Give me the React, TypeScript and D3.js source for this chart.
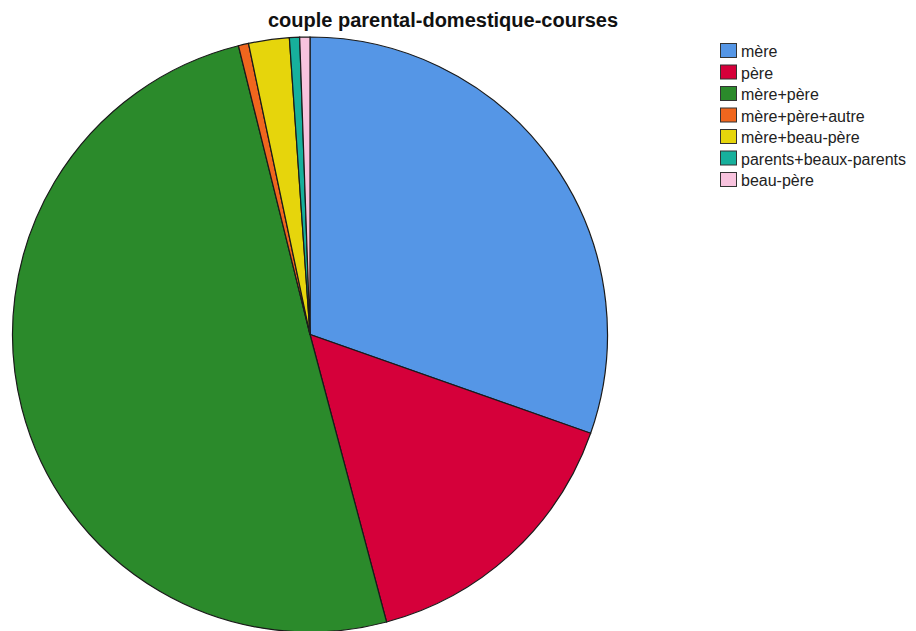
import React from "react";
import * as d3 from "d3";

const categories = [
  "mère",
  "père",
  "mère+père",
  "mère+père+autre",
  "mère+beau-père",
  "parents+beaux-parents",
  "beau-père",
];
const counts = [55, 28, 91, 1, 4, 1, 1];
const colors = ["#5596e6", "#d5003a", "#2b8a2b", "#f0661e", "#e6d50c", "#17b09c", "#f8c3de"];
const title = "couple parental-domestique-courses";

const W = 916;
const H = 631;
const cx = 310;
const cy = 334.5;
const R = 297.5;

export default function App() {
  const data = categories.map((c, i) => ({ c, v: counts[i], color: colors[i] }));
  const pie = d3.pie<any>().sort(null).value((d: any) => d.v);
  const arcs = pie(data);
  const arc = d3.arc<any>().innerRadius(0).outerRadius(R);
  return (
    <svg
      width={W}
      height={H}
      style={{ position: "absolute", left: 0, top: 0, background: "#fff" }}
      fontFamily="'Liberation Sans', Arial, sans-serif"
    >
      <rect width={W} height={H} fill="#fff" />
      <text x={443} y={27} textAnchor="middle" fontWeight="bold" fontSize={20} fill="#111">
        {title}
      </text>
      <g transform={`translate(${cx},${cy})`}>
        {arcs.map((a, i) => (
          <path key={i} d={arc(a) as string} fill={a.data.color} stroke="#1a1a1a" strokeWidth={1.2} />
        ))}
      </g>
      <g>
        {data.map((d, i) => (
          <g key={i} transform={`translate(720,${43 + i * 21.5})`}>
            <rect x={0.5} y={0.5} width={16} height={14} fill={d.color} stroke="#333" strokeWidth={1} />
            <text x={21} y={14} fontSize={16} fill="#222">
              {d.c}
            </text>
          </g>
        ))}
      </g>
    </svg>
  );
}
